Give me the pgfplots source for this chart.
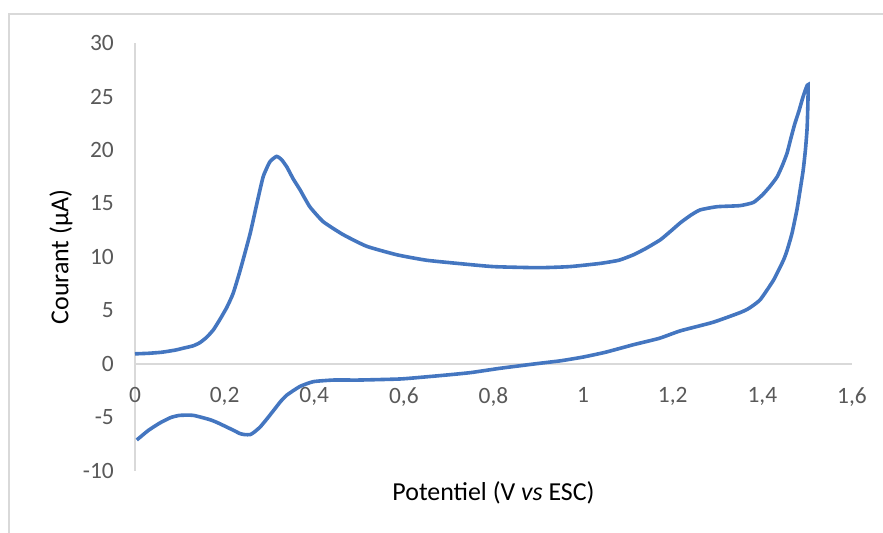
\documentclass[border=0pt]{standalone}
\usepackage{fontspec}
\setmainfont{Carlito}
\usepackage{pgfplots}
\pgfplotsset{compat=1.18}
\definecolor{cvblue}{RGB}{68,118,192}
\definecolor{tickgray}{RGB}{89,89,89}
\definecolor{axgray}{RGB}{217,217,217}
\begin{document}
\begin{tikzpicture}[x=1bp,y=1bp]
\path[use as bounding box] (0,0) rectangle (883,533);
\draw[axgray, line width=1.2bp] (9,0) -- (9,519) -- (883,519);
\begin{axis}[
  at={(135bp,62bp)}, anchor=south west,
  scale only axis, width=717bp, height=428bp,
  xmin=0, xmax=1.6, ymin=-10, ymax=30,
  axis lines=middle,
  axis line style={-, axgray, line width=1.2bp},
  hide obscured x ticks=false, hide obscured y ticks=false,
  xtick={0,0.2,...,1.6}, ytick={-10,-5,...,30},
  major tick length=0pt,
  /pgf/number format/assume math mode=true,
  /pgf/number format/use comma,
  /pgf/number format/1000 sep={},
  tick label style={font=\fontsize{23.5}{28}\selectfont, text=tickgray, inner sep=0pt},
  xticklabel style={anchor=north, yshift=-23bp},
  yticklabel style={anchor=east, xshift=-21bp},
  xlabel={Potentiel (V \textit{vs} ESC)},
  ylabel={Courant (µA)},
  label style={font=\fontsize{26}{30}\selectfont, text=black, inner sep=0pt},
  xlabel style={at={(rel axis cs:0.5,0)}, anchor=center, yshift=-22bp},
  ylabel style={at={(rel axis cs:0,0.5)}, anchor=center, xshift=-74bp, rotate=90},
  clip=false,
]
\addplot[cvblue, line width=3.6bp, smooth, tension=0.3] coordinates {
(0,0.95) (0.03,1.0) (0.06,1.1) (0.09,1.3) (0.11,1.5) (0.13,1.7) (0.145,2.0) (0.16,2.5) (0.175,3.2) (0.19,4.2) (0.205,5.3) (0.219,6.6) (0.235,8.8) (0.257,12.2) (0.272,15.0) (0.286,17.5) (0.301,18.9) (0.316,19.4) (0.327,19.1) (0.339,18.4) (0.353,17.3) (0.368,16.3) (0.39,14.7) (0.42,13.3) (0.464,12.1) (0.517,11.0) (0.585,10.2) (0.65,9.7) (0.72,9.4) (0.8,9.1) (0.9,9.0) (0.97,9.1) (1.038,9.4) (1.08,9.7) (1.112,10.2) (1.14,10.8) (1.172,11.6) (1.195,12.4) (1.217,13.2) (1.24,13.9) (1.261,14.4) (1.299,14.7) (1.35,14.8) (1.38,15.1) (1.40,15.8) (1.417,16.6) (1.433,17.5) (1.445,18.6) (1.455,19.7) (1.463,21.0) (1.472,22.4) (1.482,23.7) (1.491,25.0) (1.502,26.1)
(1.50,22.2) (1.496,20) (1.491,18.1) (1.484,16.2) (1.477,14.4) (1.466,12.2) (1.455,10.6) (1.447,9.7) (1.425,7.85) (1.395,6.0) (1.37,5.2) (1.35,4.8) (1.29,3.9) (1.217,3.1) (1.17,2.4) (1.112,1.8) (1.05,1.1) (1.0,0.65) (0.95,0.3) (0.9,0.05) (0.815,-0.4) (0.75,-0.8) (0.703,-1.0) (0.65,-1.2) (0.592,-1.4) (0.5,-1.5) (0.443,-1.5) (0.398,-1.65) (0.368,-2.1) (0.339,-2.9) (0.325,-3.5) (0.31,-4.3) (0.295,-5.1) (0.279,-5.9) (0.265,-6.4) (0.257,-6.6) (0.245,-6.6) (0.234,-6.5) (0.22,-6.2) (0.205,-5.9) (0.185,-5.5) (0.167,-5.2) (0.13,-4.8) (0.1,-4.8) (0.08,-5.0) (0.056,-5.5) (0.03,-6.2) (0.004,-7.1)
};
\end{axis}
\end{tikzpicture}
\end{document}
